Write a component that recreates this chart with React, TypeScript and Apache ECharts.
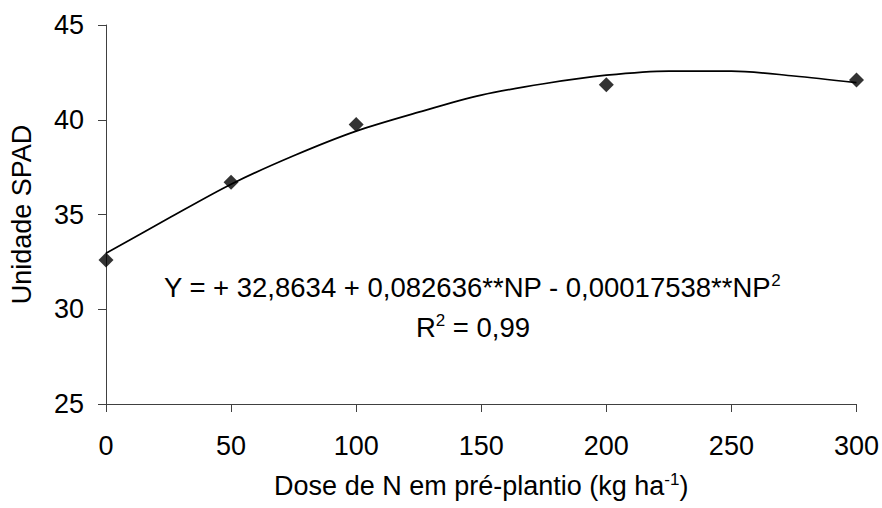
import React, { useEffect, useRef } from "react";
import * as echarts from "echarts";

const doseObserved = [0, 50, 100, 200, 300];
const spadObserved = [32.6, 36.7, 39.75, 41.85, 42.1];

const doseCurve = [0, 25, 50, 75, 100, 125, 150, 175, 200, 225, 250, 275, 300];
const spadCurve = [32.95, 34.8, 36.6, 38.1, 39.4, 40.4, 41.3, 41.9, 42.35, 42.57, 42.57, 42.31, 41.96];

const xTicks = [0, 50, 100, 150, 200, 250, 300];
const yTicks = [25, 30, 35, 40, 45];

const equationLine = "Y = + 32,8634 + 0,082636**NP - 0,00017538**NP";
const r2Prefix = "R";
const r2Suffix = " = 0,99";

export default function App() {
  const ref = useRef<HTMLDivElement>(null);
  useEffect(() => {
    document.body.style.margin = "0";
    if (!ref.current) return;
    const chart = echarts.init(ref.current, null, { renderer: "svg" });
    const font = "'Liberation Sans', Arial, sans-serif";
    const axisColor = "#404040";
    const fs = 27;
    const eqFs = 27.5;
    const supStyle = { fontSize: 17, verticalAlign: "top", fontFamily: font, lineHeight: 30 };
    chart.setOption({
      animation: false,
      backgroundColor: "#ffffff",
      grid: { left: 104, right: 25, top: 25, bottom: 104, containLabel: false },
      xAxis: {
        type: "value",
        min: xTicks[0],
        max: xTicks[xTicks.length - 1],
        interval: 50,
        name: "Dose de N em pré-plantio (kg ha{sup|-1})",
        nameLocation: "middle",
        nameGap: 67,
        nameTextStyle: {
          fontFamily: font,
          fontSize: fs,
          color: "#000",
          rich: { sup: { ...supStyle, color: "#000" } },
        },
        axisLine: { show: true, lineStyle: { color: axisColor, width: 1 } },
        axisTick: { show: true, inside: false, length: 8, lineStyle: { color: axisColor } },
        axisLabel: { fontFamily: font, fontSize: fs, color: "#000", margin: 28 },
        splitLine: { show: false },
      },
      yAxis: {
        type: "value",
        min: yTicks[0],
        max: yTicks[yTicks.length - 1],
        interval: 5,
        name: "Unidade SPAD",
        nameLocation: "middle",
        nameGap: 71,
        nameTextStyle: { fontFamily: font, fontSize: fs, color: "#000" },
        axisLine: { show: true, lineStyle: { color: axisColor, width: 1 } },
        axisTick: { show: true, inside: false, length: 8, lineStyle: { color: axisColor } },
        axisLabel: { fontFamily: font, fontSize: fs, color: "#000", margin: 22 },
        splitLine: { show: false },
      },
      series: [
        {
          type: "line",
          data: doseCurve.map((d, i) => [d, spadCurve[i]]),
          smooth: 0.3,
          showSymbol: false,
          symbol: "none",
          lineStyle: { color: "#000", width: 1.7 },
          z: 2,
        },
        {
          type: "scatter",
          data: doseObserved.map((d, i) => [d, spadObserved[i]]),
          symbol: "diamond",
          symbolSize: 15,
          itemStyle: { color: "#000" },
          z: 3,
        },
      ],
      graphic: [
        {
          type: "text",
          x: 472,
          y: 287,
          style: {
            text: equationLine + "{sup|2}",
            fontFamily: font,
            fontSize: eqFs,
            fill: "#000",
            align: "center",
            verticalAlign: "middle",
            rich: { sup: { ...supStyle, fill: "#000" } },
          },
        },
        {
          type: "text",
          x: 473,
          y: 327,
          style: {
            text: r2Prefix + "{sup|2}" + r2Suffix,
            fontFamily: font,
            fontSize: eqFs,
            fill: "#000",
            align: "center",
            verticalAlign: "middle",
            rich: { sup: { ...supStyle, fill: "#000" } },
          },
        },
      ],
    });
    return () => chart.dispose();
  }, []);
  return <div ref={ref} style={{ width: 882, height: 508 }} />;
}
